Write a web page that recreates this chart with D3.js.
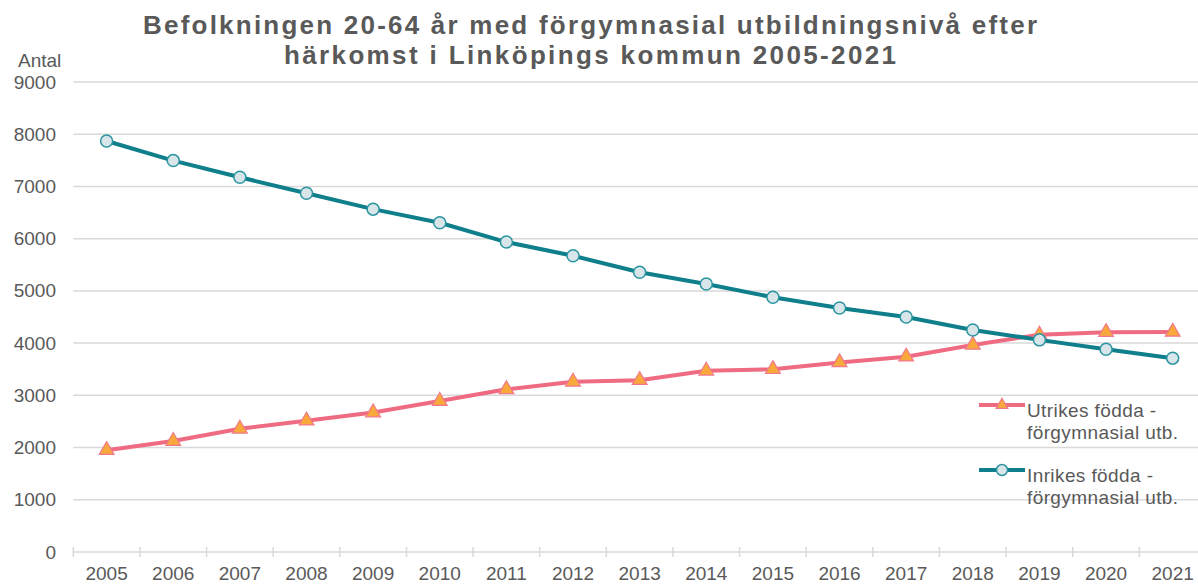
<!DOCTYPE html>
<html>
<head>
<meta charset="utf-8">
<script src="https://cdn.jsdelivr.net/npm/d3@7"></script>
<style>
  body { margin: 0; background: #fff; }
  text { font-family: "Liberation Sans", Arial, sans-serif; fill: #595959; }
</style>
</head>
<body>
<div id="chart"></div>
<script>
// chart data
const years = ["2005","2006","2007","2008","2009","2010","2011","2012","2013",
  "2014","2015","2016","2017","2018","2019","2020","2021"];
const utrikes = [1950, 2125, 2360, 2515, 2670, 2890, 3115, 3260, 3290,
  3470, 3500, 3630, 3740, 3965, 4160, 4210, 4215];
const inrikes = [7870, 7495, 7175, 6870, 6565, 6305, 5935, 5672, 5357,
  5132, 4878, 4672, 4500, 4252, 4062, 3884, 3712];
const yTicks = [0, 1000, 2000, 3000, 4000, 5000, 6000, 7000, 8000, 9000];
const titleLines = ["Befolkningen 20-64 år med förgymnasial utbildningsnivå efter",
  "härkomst i Linköpings kommun 2005-2021"];

const width = 1198, height = 584;

const svg = d3.select("#chart").append("svg")
  .attr("width", width)
  .attr("height", height);

// scales
const x = d3.scaleBand().domain(years).range([73.3, 1206]);
const y = d3.scaleLinear().domain([0, 9000]).range([552, 82]);
const cx = d => x(d) + x.bandwidth() / 2;

// gridlines
svg.append("g")
  .selectAll("line")
  .data(yTicks)
  .enter()
  .append("line")
  .attr("x1", 73.3)
  .attr("x2", width)
  .attr("y1", d => y(d))
  .attr("y2", d => y(d))
  .attr("stroke", "#d9d9d9")
  .attr("stroke-width", 1.5);

// y tick labels
svg.append("g")
  .selectAll("text")
  .data(yTicks)
  .enter()
  .append("text")
  .attr("x", 56)
  .attr("y", d => y(d) + 6.5)
  .attr("text-anchor", "end")
  .attr("font-size", 19)
  .text(d => d);

svg.append("text")
  .attr("x", 18)
  .attr("y", 66.5)
  .attr("font-size", 19)
  .text("Antal");

// x axis tick marks at band edges
svg.append("g")
  .selectAll("line")
  .data(years)
  .enter()
  .append("line")
  .attr("x1", d => x(d))
  .attr("x2", d => x(d))
  .attr("y1", 547)
  .attr("y2", 557)
  .attr("stroke", "#d9d9d9")
  .attr("stroke-width", 1.5);

svg.append("g")
  .selectAll("text")
  .data(years)
  .enter()
  .append("text")
  .attr("x", d => cx(d))
  .attr("y", 580)
  .attr("text-anchor", "middle")
  .attr("font-size", 19)
  .text(d => d);

// title
svg.append("g")
  .selectAll("text")
  .data(titleLines)
  .enter()
  .append("text")
  .attr("x", 590)
  .attr("y", (d, i) => 34 + i * 30)
  .attr("text-anchor", "middle")
  .attr("font-size", 26)
  .attr("font-weight", "bold")
  .attr("textLength", (d, i) => i == 0 ? 894 : 612)
  .attr("lengthAdjust", "spacing")
  .text(d => d);

const line = d3.line()
  .x((d, i) => cx(years[i]))
  .y(d => y(d));

const series = [
  { name: ["Utrikes födda -", "förgymnasial utb."], values: utrikes,
    color: "#ef6b82", marker: "triangle", fill: "#f9a83c", ly: 405 },
  { name: ["Inrikes födda -", "förgymnasial utb."], values: inrikes,
    color: "#0e7f8b", marker: "circle", fill: "#d8e5e9", ly: 470 }
];

function drawMarker(g, s, px, py, sz) {
  if (s.marker == "circle") {
    g.append("circle")
      .attr("cx", px).attr("cy", py).attr("r", sz == "small" ? 5.5 : 6)
      .attr("fill", s.fill)
      .attr("stroke", "#2a95a0")
      .attr("stroke-width", 1.5);
  } else {
    g.append("path")
      .attr("d", d3.symbol().type(d3.symbolTriangle).size(sz == "small" ? 60 : 95)())
      .attr("transform", `translate(${px},${py})`)
      .attr("fill", s.fill)
      .attr("stroke", "#f07a8c")
      .attr("stroke-width", 1.2);
  }
}

series.forEach(s => {
  svg.append("path")
    .datum(s.values)
    .attr("d", line)
    .attr("fill", "none")
    .attr("stroke", s.color)
    .attr("stroke-width", 4)
    .attr("stroke-linejoin", "round");

  const g = svg.append("g");
  s.values.forEach((v, i) => drawMarker(g, s, cx(years[i]), y(v)));

  // legend entry
  const lg = svg.append("g");
  lg.append("line")
    .attr("x1", 979).attr("x2", 1025)
    .attr("y1", s.ly).attr("y2", s.ly)
    .attr("stroke", s.color)
    .attr("stroke-width", 4);
  drawMarker(lg, s, 1002, s.ly, "small");
  lg.selectAll("text")
    .data(s.name)
    .enter()
    .append("text")
    .attr("x", 1027)
    .attr("y", (d, i) => s.ly + 12 + i * 22)
    .attr("font-size", 19)
    .attr("letter-spacing", 0.4)
    .text(d => d);
});
</script>
</body>
</html>
